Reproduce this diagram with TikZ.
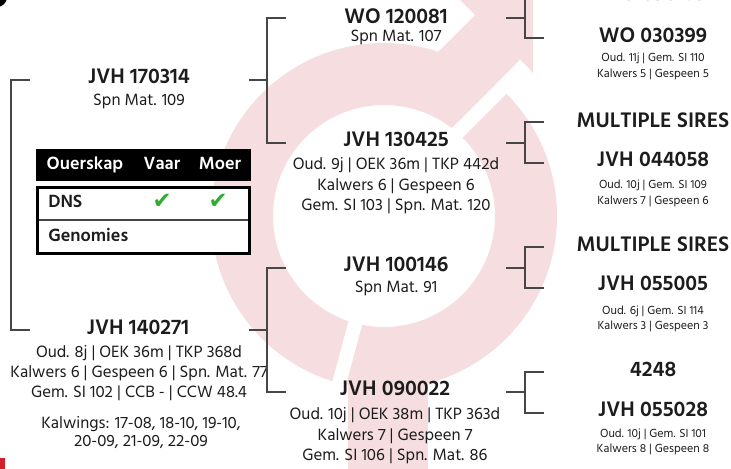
\documentclass[tikz,border=0pt]{standalone}
\usepackage{fontspec}
\setmainfont{Hind Madurai}
\newfontfamily\tfont{Hind Madurai SemiBold}
\newfontfamily\symfont{DejaVu Sans}
\definecolor{pk}{RGB}{246,221,224}
\definecolor{ink}{RGB}{28,28,28}
\definecolor{ln}{RGB}{70,70,70}
\definecolor{ck}{RGB}{48,172,48}
\definecolor{rd}{RGB}{208,32,42}
\tikzset{
  ttl/.style={font=\tfont\fontsize{16.2}{18}\selectfont, text=ink, inner sep=0pt, text height=0.66em, text depth=0pt, anchor=center},
  mid/.style={font=\fontsize{12.6}{14}\selectfont, text=ink, inner sep=0pt, text height=0.66em, text depth=0pt, anchor=center},
  sml/.style={font=\fontsize{9}{10}\selectfont, text=ink, inner sep=0pt, text height=0.66em, text depth=0pt, anchor=center},
  hdr/.style={font=\tfont\fontsize{13.6}{15}\selectfont, text=white, inner sep=0pt, text height=0.66em, text depth=0pt, anchor=center},
  cell/.style={font=\tfont\fontsize{13.6}{15}\selectfont, text=ink, inner sep=0pt, text height=0.66em, text depth=0pt, anchor=west},
  tick/.style={font=\symfont\fontsize{17}{18}\selectfont, text=ck, inner sep=0pt, anchor=center},
  link/.style={draw=ln, line width=1pt},
}
\begin{document}
\begin{tikzpicture}[x=0.75pt,y=-0.75pt]
\useasboundingbox (0,0) rectangle (731,468);
% ---------- background emblem ----------
\fill[pk, even odd rule] (384,216) circle (129.75pt) (384,216) circle (83.25pt);
\fill[pk] (475,15) -- (520,60) -- (490,90) -- (432,58) -- cycle;
\fill[pk] (533,73) -- (393,-67) -- (533,-67) -- cycle;
\fill[pk] (348,340) rectangle (428,480);
\fill[white] (520,60) -- (530,70) -- (440,160) -- (430,150) -- cycle;
\fill[white] (353.9,301.1) -- (328,397.7) -- (341.6,401.3) -- (367.5,304.7) -- cycle;
% corner marks
\fill[black] (-3,-3) circle (7.5pt);
\fill[rd] (0,458) rectangle (5,470);
% ---------- column 1 ----------
\node[ttl] (n170314) at (139,79) {JVH 170314};
\node[mid] (n170314a) at (139,101) {Spn Mat. 109};
\node[ttl] (n140271) at (138,330) {JVH 140271};
\node[mid] (n140271a) at (139,353) {Oud. 8j | OEK 36m | TKP 368d};
\node[mid] (n140271b) at (139,373) {Kalwers 6 | Gespeen 6 | Spn. Mat. 77};
\node[mid] (n140271c) at (139,393) {Gem. SI 102 | CCB - | CCW 48.4};
\node[mid] (kalw1) at (141,424) {Kalwings: 17-08, 18-10, 19-10,};
\node[mid] (kalw2) at (141,442) {20-09, 21-09, 22-09};
% ---------- table ----------
\fill[black] (36,149) rectangle (251,181);
\node[hdr] (hOuer) at (85,165) {Ouerskap};
\node[hdr] (hVaar) at (162,165) {Vaar};
\node[hdr] (hMoer) at (220,165) {Moer};
\draw[fill=white, line width=2.25pt] (37.5,187.5) rectangle (249.5,253.5);
\draw[draw=ln, line width=0.9pt] (39,220) -- (248,220);
\node[cell] (cDNS) at (48,203) {DNS};
\node[cell] (cGen) at (48,237) {Genomies};
\node[tick] (tV) at (162,201) {✔};
\node[tick] (tM) at (218,201) {✔};
% ---------- column 2 ----------
\node[ttl] (n120081) at (396,19) {WO 120081};
\node[mid] (n120081a) at (396,37) {Spn Mat. 107};
\node[ttl] (n130425) at (396,142) {JVH 130425};
\node[mid] (n130425a) at (396,165) {Oud. 9j | OEK 36m | TKP 442d};
\node[mid] (n130425b) at (396,186) {Kalwers 6 | Gespeen 6};
\node[mid] (n130425c) at (396,206) {Gem. SI 103 | Spn. Mat. 120};
\node[ttl] (n100146) at (396,267) {JVH 100146};
\node[mid] (n100146a) at (396,288) {Spn Mat. 91};
\node[ttl] (n090022) at (395,391) {JVH 090022};
\node[mid] (n090022a) at (395,415) {Oud. 10j | OEK 38m | TKP 363d};
\node[mid] (n090022b) at (395,436) {Kalwers 7 | Gespeen 7};
\node[mid] (n090022c) at (395,456) {Gem. SI 106 | Spn. Mat. 86};
% ---------- column 3 ----------
\node[ttl] (n090135) at (653,-4) {WO 090135};
\node[ttl] (n030399) at (653,38) {WO 030399};
\node[sml] (n030399a) at (653,57) {Oud. 11j | Gem. SI 110};
\node[sml] (n030399b) at (653,73) {Kalwers 5 | Gespeen 5};
\node[ttl] (ms1) at (653,123) {MULTIPLE SIRES};
\node[ttl] (n044058) at (653,162) {JVH 044058};
\node[sml] (n044058a) at (653,184) {Oud. 10j | Gem. SI 109};
\node[sml] (n044058b) at (653,200) {Kalwers 7 | Gespeen 6};
\node[ttl] (ms2) at (653,247) {MULTIPLE SIRES};
\node[ttl] (n055005) at (653,286) {JVH 055005};
\node[sml] (n055005a) at (653,310) {Oud. 6j | Gem. SI 114};
\node[sml] (n055005b) at (653,325) {Kalwers 3 | Gespeen 3};
\node[ttl] (n4248) at (653,372) {4248};
\node[ttl] (n055028) at (653,412) {JVH 055028};
\node[sml] (n055028a) at (653,433) {Oud. 10j | Gem. SI 101};
\node[sml] (n055028b) at (653,448) {Kalwers 8 | Gespeen 8};
% ---------- brackets ----------
\coordinate (b0a) at (30,80);
\coordinate (b0b) at (30,330);
\draw[link] (b0a) -- (11,80) -- (11,330) -- (b0b);
\coordinate (s1) at (249,80);  \coordinate (c1a) at (286,18);  \coordinate (c1b) at (286,143);
\coordinate (s2) at (249,330); \coordinate (c2a) at (286,268); \coordinate (c2b) at (286,392);
\coordinate (s3) at (506,18);  \coordinate (c3a) at (544,-2);  \coordinate (c3b) at (544,38);
\coordinate (s4) at (506,143); \coordinate (c4a) at (544,122); \coordinate (c4b) at (544,163);
\coordinate (s5) at (506,268); \coordinate (c5a) at (544,247); \coordinate (c5b) at (544,288);
\coordinate (s6) at (506,392); \coordinate (c6a) at (544,372); \coordinate (c6b) at (544,413);
\foreach \i/\w in {1/18,2/18,3/19,4/19,5/19,6/19}{
  \draw[link] (s\i) -- ++(\w,0) coordinate (j\i);
  \draw[link] (c\i a) -| (j\i) |- (c\i b);
}
\end{tikzpicture}
\end{document}
